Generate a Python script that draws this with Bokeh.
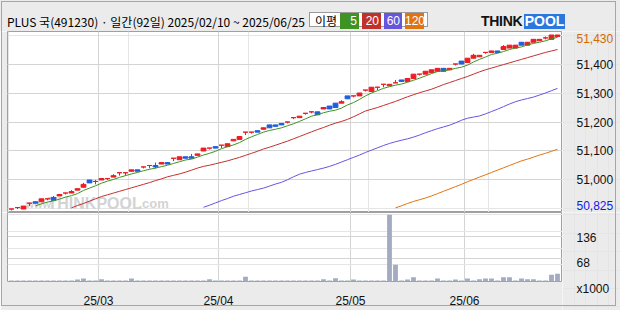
import numpy as np
import pandas as pd
from bokeh.plotting import figure
from bokeh.layouts import column, row
from bokeh.models import (Range1d, FixedTicker, NumeralTickFormatter, Label, Div,
                          Grid, LinearAxis, ColumnDataSource)
from bokeh.embed import file_html
from bokeh.resources import INLINE

# ---------------- data ----------------
TITLE = "PLUS 국(491230) · 일간(92일) 2025/02/10 ~ 2025/06/25"
month_ticks = [15, 35, 57, 76]
month_labels = ["25/03", "25/04", "25/05", "25/06"]
price_ticks = [51000, 51100, 51200, 51300, 51400]
last_price = 51430
min_price = 50825
vol_ticks = [68, 136]
vol_unit = "x1000"
ma_names = ["5", "20", "60", "120"]

opens = [50900, 50905, 50900, 50920, 50925, 50925, 50935, 50940, 50945, 50955,
         50955, 50965, 50975, 51000, 50995, 51000, 51005, 51010, 51025, 51025,
         51030, 51035, 51045, 51050, 51050, 51055, 51060, 51075, 51070, 51080,
         51080, 51085, 51100, 51110, 51115, 51120, 51115, 51135, 51140, 51165,
         51165, 51170, 51175, 51190, 51190, 51195, 51200, 51215, 51215, 51230,
         51235, 51235, 51245, 51255, 51265, 51265, 51290, 51290, 51290, 51310,
         51305, 51320, 51330, 51325, 51335, 51345, 51340, 51350, 51365, 51365,
         51370, 51375, 51385, 51380, 51400, 51410, 51405, 51420, 51425, 51440,
         51440, 51445, 51450, 51455, 51455, 51475, 51465, 51475, 51480, 51490,
         51485, 51495]
highs = [50900, 50905, 50910, 50920, 50925, 50935, 50935, 50945, 50950, 50955,
         50965, 50970, 50990, 51000, 51000, 51005, 51005, 51020, 51025, 51025,
         51035, 51035, 51045, 51050, 51060, 51060, 51060, 51075, 51080, 51080,
         51090, 51090, 51110, 51110, 51115, 51120, 51125, 51140, 51150, 51165,
         51165, 51170, 51180, 51190, 51190, 51195, 51200, 51215, 51220, 51230,
         51235, 51235, 51250, 51255, 51265, 51275, 51290, 51290, 51300, 51310,
         51320, 51320, 51330, 51330, 51345, 51345, 51350, 51365, 51365, 51375,
         51380, 51385, 51385, 51385, 51400, 51410, 51420, 51435, 51430, 51440,
         51445, 51445, 51465, 51465, 51465, 51475, 51475, 51485, 51485, 51495,
         51500, 51500]
lows = [50895, 50900, 50900, 50910, 50920, 50925, 50930, 50930, 50945, 50950,
        50955, 50965, 50975, 50990, 50985, 51000, 51000, 51010, 51015, 51015,
        51030, 51030, 51040, 51040, 51040, 51055, 51055, 51065, 51070, 51075,
        51075, 51085, 51100, 51105, 51110, 51110, 51115, 51135, 51140, 51155,
        51160, 51165, 51175, 51180, 51185, 51190, 51195, 51210, 51215, 51225,
        51230, 51225, 51245, 51245, 51250, 51265, 51280, 51285, 51290, 51305,
        51305, 51310, 51320, 51325, 51335, 51340, 51340, 51350, 51360, 51365,
        51370, 51375, 51375, 51380, 51395, 51400, 51405, 51420, 51425, 51435,
        51440, 51440, 51450, 51455, 51455, 51465, 51465, 51475, 51480, 51485,
        51485, 51495]
closes = [50900, 50905, 50910, 50920, 50920, 50935, 50935, 50930, 50950, 50955,
          50960, 50970, 50985, 50990, 50995, 51005, 51005, 51015, 51025, 51025,
          51035, 51030, 51045, 51050, 51045, 51060, 51055, 51075, 51080, 51075,
          51075, 51090, 51110, 51110, 51110, 51120, 51125, 51140, 51150, 51165,
          51165, 51165, 51180, 51180, 51185, 51190, 51200, 51215, 51220, 51230,
          51235, 51225, 51250, 51245, 51250, 51270, 51280, 51290, 51300, 51310,
          51320, 51320, 51330, 51330, 51335, 51340, 51350, 51365, 51365, 51375,
          51380, 51385, 51375, 51385, 51400, 51400, 51420, 51430, 51430, 51440,
          51445, 51440, 51460, 51465, 51465, 51465, 51475, 51485, 51485, 51490,
          51500, 51500]
volume_k = [3, 3, 3, 3, 3, 3, 3, 3, 3, 3,
            3, 6, 9, 3, 3, 7, 3, 3, 3, 3,
            9, 3, 3, 3, 3, 3, 3, 3, 3, 3,
            3, 3, 3, 7, 3, 3, 3, 3, 3, 14,
            3, 3, 3, 3, 3, 3, 3, 3, 3, 3,
            3, 3, 7, 3, 10, 3, 3, 6, 3, 3,
            3, 3, 3, 200, 50, 3, 6, 13, 3, 3,
            3, 9, 3, 3, 6, 3, 9, 3, 7, 9,
            9, 3, 13, 13, 3, 9, 7, 7, 3, 3,
            20, 23]
ma20 = [np.nan] * 10 + [
    50904, 50912, 50919, 50927, 50935, 50943, 50949, 50955, 50961, 50967,
    50973, 50979, 50985, 50991, 50998, 51004, 51011, 51016, 51021, 51027,
    51034, 51041, 51047, 51051, 51056, 51061, 51066, 51072, 51078, 51085,
    51092, 51099, 51107, 51113, 51120, 51127, 51134, 51142, 51150, 51158,
    51166, 51174, 51181, 51189, 51196, 51202, 51209, 51218, 51228, 51238,
    51244, 51250, 51257, 51264, 51271, 51279, 51287, 51294, 51301, 51307,
    51313, 51321, 51329, 51336, 51343, 51350, 51357, 51365, 51373, 51380,
    51386, 51392, 51398, 51404, 51410, 51416, 51422, 51428, 51434, 51440,
    51445, 51450]
ma60 = [np.nan] * 32 + [
    50906, 50913, 50921, 50929, 50936, 50944, 50950, 50956, 50962, 50967,
    50972, 50979, 50986, 50992, 51001, 51011, 51020, 51026, 51031, 51036,
    51041, 51047, 51054, 51062, 51070, 51078, 51086, 51095, 51103, 51111,
    51119, 51126, 51132, 51137, 51142, 51148, 51155, 51163, 51170, 51177,
    51183, 51189, 51197, 51206, 51213, 51217, 51221, 51228, 51236, 51244,
    51253, 51262, 51270, 51276, 51281, 51286, 51293, 51300, 51308, 51316]
ma120 = [np.nan] * 64 + [
    50904, 50911, 50919, 50926, 50932, 50938, 50945, 50953, 50961, 50969,
    50977, 50985, 50994, 51002, 51010, 51018, 51026, 51034, 51042, 51050,
    51058, 51066, 51072, 51079, 51086, 51092, 51099, 51106]

# ---------------- styles ----------------
BG = "#ebebeb"
FRAME = "#a0a0a0"
GRID = "#d4d4d4"
UP = "#ee1c24"
DOWN = "#1f5fdf"
MA_COLORS = ["#3f9322", "#c0312c", "#6655dd", "#e07412"]
VOL_COLOR = "#a3abc3"
NUM_FONT = "Liberation Sans"
KR_FONT = "Noto Sans CJK KR"
LABEL_STYLE = dict(axis_line_color=None, major_tick_line_color=None, minor_tick_line_color=None,
                   major_label_standoff=8, major_label_text_font=NUM_FONT,
                   major_label_text_font_size="12px")

n = len(closes)
df = pd.DataFrame({"o": opens, "h": highs, "l": lows, "c": closes, "v": volume_k})
df["x"] = np.arange(n) + 0.5
df["top"] = df[["o", "c"]].max(axis=1)
df["bot"] = df[["o", "c"]].min(axis=1)
df["col"] = np.where(df["c"] >= df["o"], UP, DOWN)
df["ma5"] = df["c"].rolling(5).mean()
df["ma20"] = ma20
df["ma60"] = ma60
df["ma120"] = ma120
src = ColumnDataSource(df)

xr = Range1d(-1 / 6, 92 + 2 / 6)
price_range = Range1d(50887.9, 51512.1)
marks_range = Range1d(50801.5, 51455.3)
vol_range = Range1d(0, 206.7)
vol_side_range = Range1d(-59.83, 206.7)


# ---------------- header (title, MA legend, logo, outer frame) ----------------
def pos(left, top, inner, style=""):
    return (f'<div style="position:absolute;left:{left}px;top:{top}px;white-space:nowrap;'
            f'{style}">{inner}</div>')


parts = [pos(7, 14, TITLE, f"font-family:'{KR_FONT}';font-size:12px;line-height:16px;color:#000;"),
         pos(309, 12, "", "width:119px;height:15px;background:#fff;border:1px solid #9a9a9a;"),
         pos(315, 13, "이평", f"font-family:'{KR_FONT}';font-size:12px;line-height:16px;color:#000;")]
box_x = [(340, 21), (362, 21), (384, 20), (405, 21)]
for (bx, bw), nm, colr in zip(box_x, ma_names, MA_COLORS):
    parts.append(pos(bx, 13, nm,
                     f"width:{bw - 2}px;height:16px;padding-right:2px;background:{colr};"
                     f"color:#fff;text-align:right;font-family:'{NUM_FONT}';font-size:12px;"
                     "line-height:16px;"))
parts.append(pos(481, 14, "THINK", f"font-family:'{NUM_FONT}';font-weight:bold;font-size:14px;"
                 "line-height:15px;color:#111;letter-spacing:-0.3px;"))
parts.append(pos(524, 14, "POOL", f"width:41px;height:15px;background:#2a78de;color:#fff;"
                 f"text-align:center;font-family:'{NUM_FONT}';font-weight:bold;font-size:14px;"
                 "line-height:15px;"))
parts.append(pos(1, 1, "", "width:615px;height:305px;border:1px solid #a6a6a6;z-index:100;"
                 "pointer-events:none;"))
header_html = ('<div style="position:relative;width:620px;height:31px;background:%s;'
               'margin:0;padding:0;overflow:visible;">%s</div>' % (BG, "".join(parts)))
header = Div(text=header_html, width=620, height=31, margin=0,
             styles={"background-color": BG, "padding": "0", "margin": "0",
                     "overflow": "visible", "z-index": "100"})


def base_fig(width, height, x_range, y_range, **kw):
    return figure(width=width, height=height, x_range=x_range, y_range=y_range,
                  toolbar_location=None, output_backend="svg", border_fill_color=BG, **kw)


# ---------------- price panel ----------------
p = base_fig(562, 181, xr, price_range, min_border_left=7, min_border_right=0,
             min_border_top=0, min_border_bottom=0, x_axis_location=None, y_axis_location=None,
             background_fill_color="white", outline_line_color=FRAME)
p.add_layout(Grid(dimension=1, ticker=FixedTicker(ticks=price_ticks), grid_line_color=GRID))
p.add_layout(Grid(dimension=0, ticker=FixedTicker(ticks=month_ticks), grid_line_color=GRID))

# watermark
FL, FB = 7, 212
for X, txt, size in [(25, "www.", "11px"), (47, "THINKPOOL", "16px"), (138, ".com", "13px")]:
    p.add_layout(Label(x=X - FL, y=FB - 203, x_units="screen", y_units="screen", text=txt,
                       text_font=NUM_FONT, text_font_style="bold", text_font_size=size,
                       text_color="#d3d3d3", text_baseline="middle", level="underlay"))

p.segment(x0="x", y0="l", x1="x", y1="h", color="col", line_width=1, source=src)
p.vbar(x="x", width=0.8, top="top", bottom="bot", fill_color="col", line_color="col",
       line_width=1, source=src)
for name, colr in zip(["ma5", "ma20", "ma60", "ma120"], MA_COLORS):
    p.line(x="x", y=name, color=colr, line_width=1, source=src)

# price scale (right of the price panel)
ps = base_fig(58, 181, Range1d(0, 1), price_range, min_border_left=0, min_border_right=0,
              min_border_top=0, min_border_bottom=0, x_axis_location=None,
              y_axis_location=None, background_fill_color=BG, outline_line_color=None)
ps.extra_y_ranges = {"marks": marks_range}
ps.add_layout(LinearAxis(ticker=FixedTicker(ticks=price_ticks),
                         formatter=NumeralTickFormatter(format="0,0"), fixed_location=0,
                         major_label_text_color="#111111", **LABEL_STYLE), "right")
for tick, colr in [(last_price, "#d26a00"), (min_price, "#0a1ee6")]:
    ps.add_layout(LinearAxis(y_range_name="marks", ticker=FixedTicker(ticks=[tick]),
                             formatter=NumeralTickFormatter(format="0,0"), fixed_location=0,
                             major_label_text_color=colr, **LABEL_STYLE), "right")

# ---------------- volume panel ----------------
v = base_fig(562, 98, xr, vol_range, min_border_left=7, min_border_right=0,
             min_border_top=0, min_border_bottom=22, y_axis_location=None,
             background_fill_color="white", outline_line_color=FRAME)
v.vbar(x="x", width=0.8, top="v", bottom=0, fill_color=VOL_COLOR, line_color=None, source=src)
v.add_layout(Grid(dimension=1, ticker=FixedTicker(ticks=vol_ticks), grid_line_color=GRID))
v.xaxis.ticker = FixedTicker(ticks=month_ticks)
v.xaxis.major_label_overrides = {t: s for t, s in zip(month_ticks, month_labels)}
v.xaxis.axis_line_color = None
v.xaxis.major_tick_line_color = None
v.xaxis.minor_tick_line_color = None
v.xaxis.major_label_standoff = 6
v.xaxis.major_label_text_font = NUM_FONT
v.xaxis.major_label_text_font_size = "12px"
v.xaxis.major_label_text_color = "#111111"
v.xgrid.grid_line_color = GRID

# volume scale (right of the volume panel)
vs = base_fig(58, 98, Range1d(0, 1), vol_side_range, min_border_left=0, min_border_right=0,
              min_border_top=0, min_border_bottom=0, x_axis_location=None,
              y_axis_location=None, background_fill_color=BG, outline_line_color=None)
try:
    vs.frame_align = False
except Exception:
    vs.y_range = vol_range
vs.add_layout(LinearAxis(ticker=FixedTicker(ticks=[0] + vol_ticks), fixed_location=0,
                         major_label_overrides={0: vol_unit},
                         major_label_text_color="#111111", **LABEL_STYLE), "right")

layout = column(header, row(p, ps, spacing=0), row(v, vs, spacing=0), spacing=0)
open("out.html", "w").write(file_html(layout, INLINE))
